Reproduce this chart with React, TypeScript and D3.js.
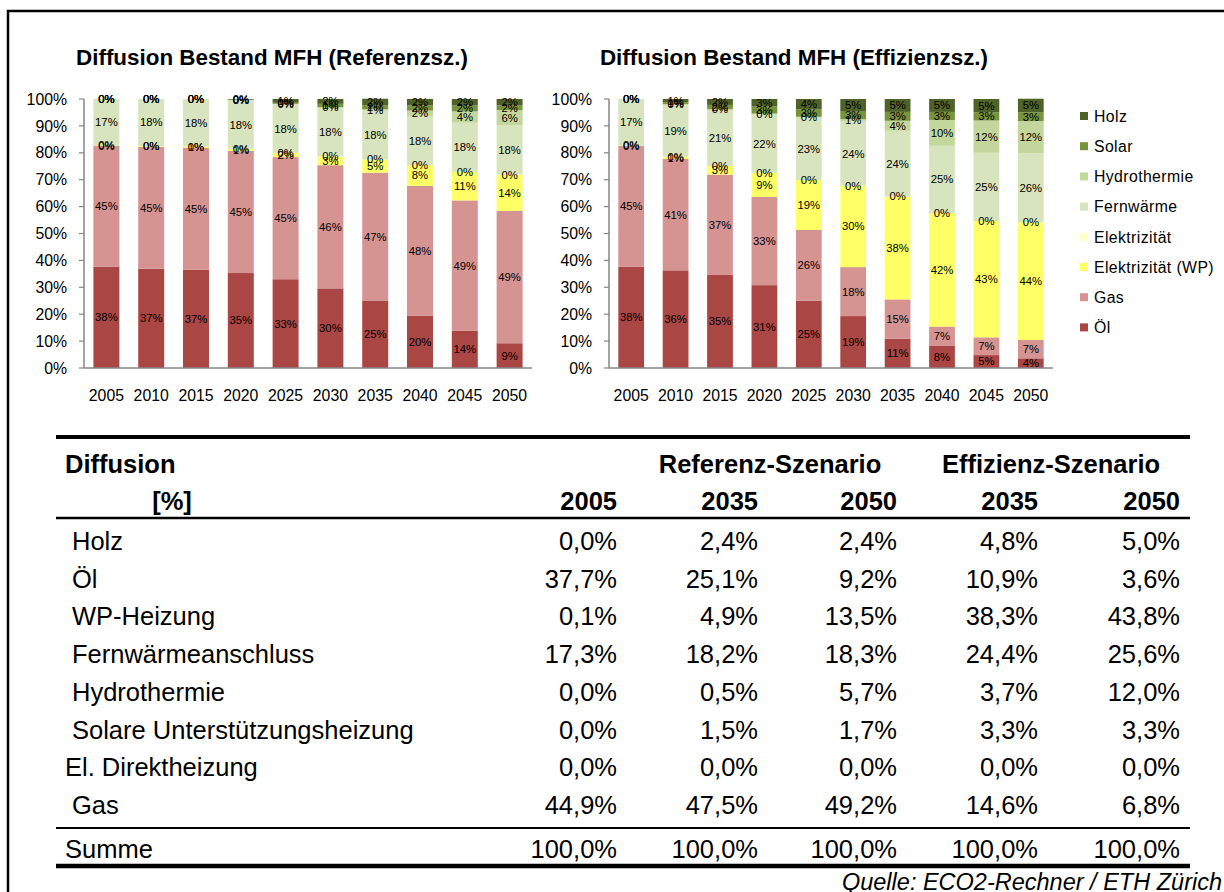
import React from 'react';
import * as d3 from 'd3';

// categories
const years = ['2005', '2010', '2015', '2020', '2025', '2030', '2035', '2040', '2045', '2050'];
const seriesNames = ['Öl', 'Gas', 'Elektrizität (WP)', 'Elektrizität', 'Fernwärme', 'Hydrothermie', 'Solar', 'Holz'];
const seriesColors = ['#AA4643', '#D59392', '#FFFF66', '#FFFFCC', '#D7E4BD', '#C3D69B', '#77933C', '#4F6228'];

// Referenzszenario, share in %
const refOel = [37.7, 36.9, 36.5, 35.3, 33.0, 29.6, 25.1, 19.5, 13.8, 9.2];
const refGas = [44.9, 45.3, 45.3, 45.4, 45.4, 45.8, 47.5, 48.2, 48.5, 49.2];
const refWP = [0.1, 0.3, 0.5, 0.8, 1.6, 3.2, 4.9, 7.7, 10.7, 13.5];
const refEl = [0, 0, 0, 0, 0, 0.1, 0, 0, 0, 0];
const refFW = [17.3, 17.5, 17.7, 18.0, 18.0, 18.0, 18.2, 18.2, 18.2, 18.3];
const refHyd = [0, 0, 0, 0.1, 0.2, 0.3, 0.5, 2.1, 4.2, 5.7];
const refSolar = [0, 0, 0, 0.2, 0.4, 1.2, 1.5, 1.9, 2.2, 1.7];
const refHolz = [0, 0, 0, 0.2, 1.4, 1.8, 2.4, 2.4, 2.4, 2.4];

// Effizienzszenario, share in %
const effOel = [37.7, 36.3, 34.6, 30.8, 25.0, 19.3, 10.9, 8.2, 4.8, 3.6];
const effGas = [44.9, 41.4, 37.3, 32.8, 26.3, 18.2, 14.6, 7.2, 6.6, 6.8];
const effWP = [0.1, 0.9, 3.2, 9.0, 18.6, 30.3, 38.3, 42.2, 43.2, 43.8];
const effEl = [0, 0, 0, 0, 0, 0, 0, 0, 0, 0];
const effFW = [17.3, 19.2, 20.8, 21.6, 23.2, 23.8, 24.4, 25.0, 25.4, 25.6];
const effHyd = [0, 0.3, 0.4, 0.4, 0.3, 0.9, 3.7, 9.6, 12.0, 12.0];
const effSolar = [0, 0.7, 1.5, 2.6, 2.8, 2.8, 3.3, 3.0, 3.1, 3.3];
const effHolz = [0, 1.2, 2.2, 2.8, 3.8, 4.7, 4.8, 4.8, 4.9, 5.0];

const yTicks = [0, 10, 20, 30, 40, 50, 60, 70, 80, 90, 100];

// table
const tableRows = ['Holz', 'Öl', 'WP-Heizung', 'Fernwärmeanschluss', 'Hydrothermie', 'Solare Unterstützungsheizung', 'El. Direktheizung', 'Gas'];
const tableYears = ['2005', '2035', '2050', '2035', '2050'];
const col2005 = [0.0, 37.7, 0.1, 17.3, 0.0, 0.0, 0.0, 44.9];
const colRef2035 = [2.4, 25.1, 4.9, 18.2, 0.5, 1.5, 0.0, 47.5];
const colRef2050 = [2.4, 9.2, 13.5, 18.3, 5.7, 1.7, 0.0, 49.2];
const colEff2035 = [4.8, 10.9, 38.3, 24.4, 3.7, 3.3, 0.0, 14.6];
const colEff2050 = [5.0, 3.6, 43.8, 25.6, 12.0, 3.3, 0.0, 6.8];
const sumRow = [100.0, 100.0, 100.0, 100.0, 100.0];

const FONT = '"Liberation Sans", Arial, Helvetica, sans-serif';
const AXIS_GRAY = '#868686';

type ChartProps = {
  title: string;
  titleX: number;
  x0: number;
  x1: number;
  data: number[][];
};

function StackedChart({ title, titleX, x0, x1, data }: ChartProps) {
  const yTop = 99;
  const yBottom = 368;
  const x = d3.scaleBand().domain(years).range([x0, x1]).paddingInner(0.42).paddingOuter(0.21);
  const y = d3.scaleLinear().domain([0, 100]).range([yBottom, yTop]);

  const table = years.map((yr, i) => {
    const row: any = { year: yr };
    seriesNames.forEach((s, k) => (row[s] = data[k][i]));
    return row;
  });
  const stacked = d3.stack<any>().keys(seriesNames)(table);

  return (
    <g>
      <text x={titleX} y={65} textAnchor="middle" fontSize={22.4} fontWeight="bold" fontFamily={FONT}>
        {title}
      </text>
      {stacked.map((layer, k) => (
        <g key={seriesNames[k]}>
          {layer.map((d, i) => (
            <rect
              key={i}
              x={x(years[i])}
              width={x.bandwidth()}
              y={y(d[1])}
              height={Math.max(0, y(d[0]) - y(d[1]))}
              fill={seriesColors[k]}
            />
          ))}
        </g>
      ))}
      {stacked.map((layer, k) => (
        <g key={'l' + k} fontSize={11.3} fontFamily={FONT} textAnchor="middle">
          {layer.map((d, i) => (
            <text key={i} x={(x(years[i]) as number) + x.bandwidth() / 2} y={y((d[0] + d[1]) / 2)} dy="0.35em">
              {Math.round(d[1] - d[0]) + '%'}
            </text>
          ))}
        </g>
      ))}
      <line x1={x0} x2={x0} y1={yTop} y2={yBottom} stroke={AXIS_GRAY} strokeWidth={1.5} />
      <line x1={x0} x2={x1} y1={yBottom} y2={yBottom} stroke={AXIS_GRAY} strokeWidth={1.5} />
      {yTicks.map((t) => (
        <g key={t}>
          <line x1={x0 - 5} x2={x0} y1={y(t)} y2={y(t)} stroke={AXIS_GRAY} strokeWidth={1.2} />
          <text x={x0 - 17} y={y(t)} dy="0.36em" textAnchor="end" fontSize={15.8} fontFamily={FONT}>
            {t + '%'}
          </text>
        </g>
      ))}
      {years.map((yr) => (
        <text key={yr} x={(x(yr) as number) + x.bandwidth() / 2} y={401} textAnchor="middle" fontSize={15.8} fontFamily={FONT}>
          {yr}
        </text>
      ))}
    </g>
  );
}

const fmt = (v: number) => d3.format('.1f')(v).replace('.', ',') + '%';

export default function App() {
  const refData = [refOel, refGas, refWP, refEl, refFW, refHyd, refSolar, refHolz];
  const effData = [effOel, effGas, effWP, effEl, effFW, effHyd, effSolar, effHolz];
  const tableCols = [col2005, colRef2035, colRef2050, colEff2035, colEff2050];
  const colRight = [617, 758, 897, 1038, 1180];
  const rowY = d3.scaleLinear().domain([0, 1]).range([549, 586.7]);
  const legendOrder = seriesNames.slice().reverse();
  const legendColors = seriesColors.slice().reverse();

  return (
    <svg width={1224} height={892} style={{ position: 'absolute', left: 0, top: 0, background: '#fff' }}>
      <rect x={8} y={11} width={1300} height={1000} fill="#fff" stroke="#000" strokeWidth={2.5} />

      <StackedChart title="Diffusion Bestand MFH (Referenzsz.)" titleX={272} x0={84} x1={532} data={refData} />
      <StackedChart title="Diffusion Bestand MFH (Effizienzsz.)" titleX={794} x0={609} x1={1053} data={effData} />

      <g fontFamily={FONT} fontSize={15.8} letterSpacing={0.4}>
        {legendOrder.map((s, i) => (
          <g key={s} transform={`translate(1080, ${116 + i * 30.2})`}>
            <rect x={0} y={-4} width={8} height={8} fill={legendColors[i]} />
            <text x={14} y={0} dy="0.36em">{s}</text>
          </g>
        ))}
      </g>

      <g fontFamily={FONT} fontSize={25.5}>
        <line x1={56} x2={1190} y1={437} y2={437} stroke="#000" strokeWidth={4} />
        <text x={65} y={473} fontWeight="bold">Diffusion</text>
        <text x={770} y={473} fontWeight="bold" textAnchor="middle">Referenz-Szenario</text>
        <text x={1051} y={473} fontWeight="bold" textAnchor="middle">Effizienz-Szenario</text>
        <text x={172} y={510} fontWeight="bold" textAnchor="middle">[%]</text>
        {tableYears.map((yr, j) => (
          <text key={j} x={colRight[j]} y={510} fontWeight="bold" textAnchor="end">{yr}</text>
        ))}
        <line x1={56} x2={1190} y1={518} y2={518} stroke="#000" strokeWidth={2.5} />

        {tableRows.map((name, i) => (
          <g key={name}>
            <text x={name === 'El. Direktheizung' ? 65 : 72} y={rowY(i) + 1}>{name}</text>
            {tableCols.map((col, j) => (
              <text key={j} x={colRight[j]} y={rowY(i) + 1} textAnchor="end">{fmt(col[i])}</text>
            ))}
          </g>
        ))}

        <line x1={56} x2={1190} y1={828} y2={828} stroke="#000" strokeWidth={2} />
        <text x={65} y={858}>Summe</text>
        {sumRow.map((v, j) => (
          <text key={j} x={colRight[j]} y={858} textAnchor="end">{fmt(v)}</text>
        ))}
        <line x1={56} x2={1190} y1={866} y2={866} stroke="#000" strokeWidth={4.5} />

        <text x={1222} y={890} textAnchor="end" fontStyle="italic" fontSize={23.5}>
          Quelle: ECO2-Rechner / ETH Zürich
        </text>
      </g>
    </svg>
  );
}
